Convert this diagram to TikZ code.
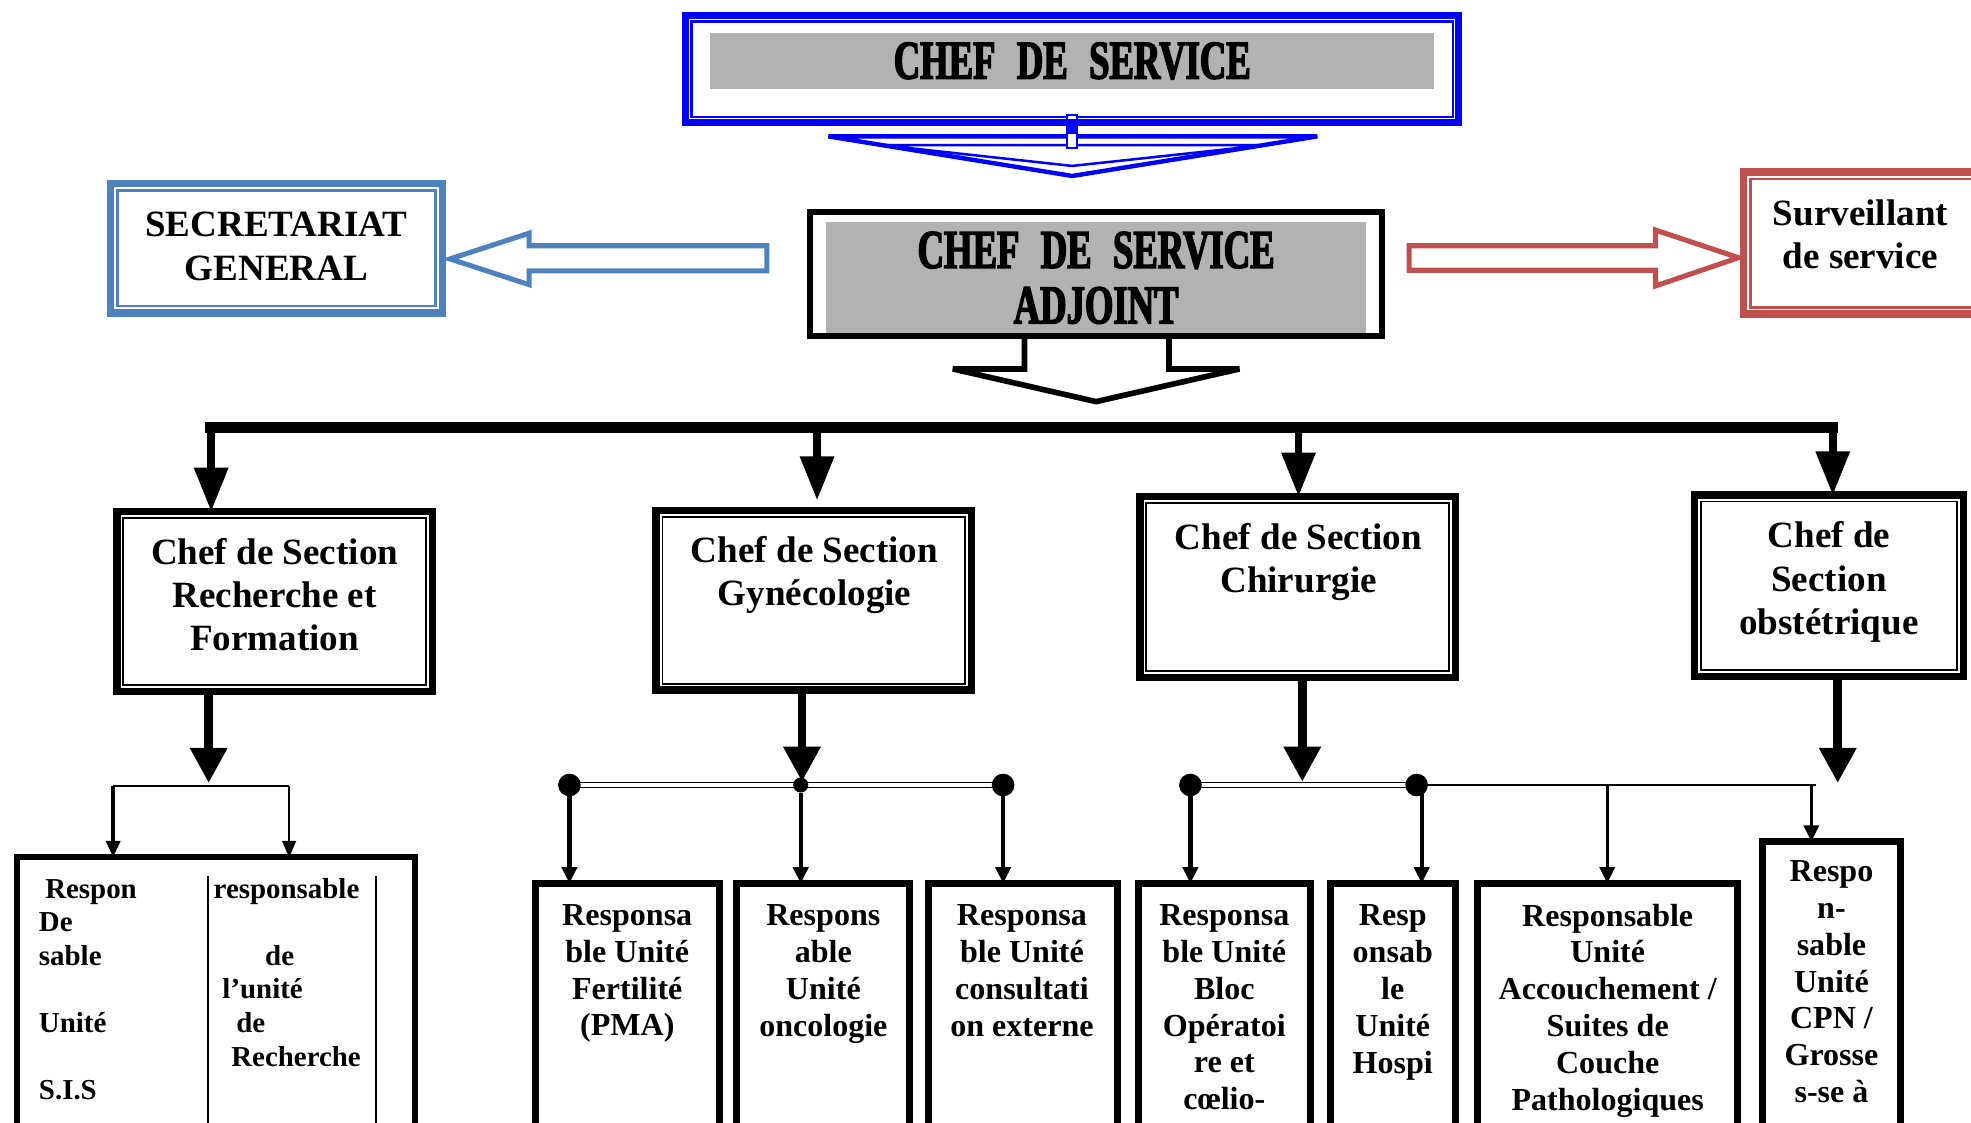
\documentclass[tikz,border=0pt]{standalone}
\usepackage{fontspec}
\setmainfont{Liberation Serif}
\newfontfamily\heavyfont{Liberation Serif}[FakeStretch=0.67,FakeBold=2.6]
\usetikzlibrary{arrows.meta}
\definecolor{secblue}{HTML}{4F81BD}
\definecolor{survred}{HTML}{C0504D}
\definecolor{topblue}{HTML}{0000FF}
\definecolor{boxgray}{HTML}{B2B2B2}
\newcommand\innerframe[4][black]{%
  \draw[#1,line width=#4] ([shift={(#3,-#3)}]#2.north west) rectangle ([shift={(-#3,#3)}]#2.south east);}
\newcommand\wsp{\hskip 17pt\relax}
\tikzset{
  every node/.style={inner sep=0pt, outer sep=0pt},
  boxline/.style={draw, rectangle},
  secframe/.style={boxline, line width=6pt},
  uframe/.style={boxline, line width=5.5pt},
  titletxt/.style={font=\heavyfont\fontsize{43.5}{44}\selectfont\bfseries, align=center},
  sectxt/.style={font=\fontsize{29.5}{34.5}\selectfont\bfseries, align=center},
  utxt/.style={font=\fontsize{25.5}{29.3}\selectfont\bfseries, align=center},
  ltxt/.style={font=\fontsize{23}{26.7}\selectfont\bfseries, align=left, anchor=north west},
  hollow/.style={line width=4pt, line join=miter, fill=white},
  busline/.style={line width=9pt},
  busarrow/.style={line width=6pt, -{Triangle[length=35pt,width=26pt]}},
  secarrow/.style={line width=7pt, -{Triangle[length=28pt,width=28pt]}},
  uarrow/.style={line width=3.5pt, -{Triangle[length=13pt,width=12pt]}},
  thinarrow/.style={line width=2pt, -{Triangle[length=13pt,width=11pt]}},
  dline/.style={double, line width=1.5pt, double distance=2.5pt},
  jdot/.style={circle, fill, minimum size=18pt},
  jsmalldot/.style={circle, fill, minimum size=12pt},
}
\begin{document}
\begin{tikzpicture}[x=1pt,y=-1pt]
\useasboundingbox (0,0) rectangle (1568,893);
\clip (0,0) rectangle (1568,893);
\fill[white] (0,0) rectangle (1568,893);

% ---------- Chef de service ----------
\node[boxline, draw=topblue, line width=5.5pt, minimum width=615pt, minimum height=85pt] (chef) at (853,55) {};
\innerframe[topblue]{chef}{4.5pt}{2pt}
\node[fill=boxgray, minimum width=576pt, minimum height=45pt, titletxt] (chefT) at (853,48.5) {CHEF\wsp DE\wsp SERVICE};
\begin{scope}[shift={(chef.south)}]
  \draw[topblue, line width=3.5pt, line join=miter, miter limit=3, fill=white] (-194,11) -- (195,11) -- (0,42.5) -- cycle;
  \draw[topblue, line width=2pt, line join=miter, miter limit=3] (-151,18) -- (153,18) -- (0,34.5) -- cycle;
  \draw[topblue, line width=1.5pt, fill=white] (-4,-6) rectangle (4,20);
  \fill[topblue] (-4,-2.5) rectangle (4,9);
\end{scope}

% ---------- Secretariat ----------
\node[boxline, draw=secblue, line width=6pt, minimum width=264pt, minimum height=103pt] (sec) at (220,197.5) {};
\innerframe[secblue]{sec}{5.5pt}{2pt}
\node[sectxt] (secT) at (220,196) {SECRETARIAT\\GENERAL};
\coordinate (secTip) at (358,206);
\draw[hollow, draw=secblue] (secTip) -- ++(63,-20.5) -- ++(0,10) -- ++(189,0) -- ++(0,20) -- ++(-189,0) -- ++(0,11) -- cycle;

% ---------- Surveillant ----------
\node[boxline, draw=survred, line width=6pt, minimum width=190pt, minimum height=113pt] (surv) at (1482,193.5) {};
\innerframe[survred]{surv}{5.5pt}{2pt}
\node[sectxt] (survT) at (1480,186.5) {Surveillant\\de service};
\coordinate (survTip) at (1383,205);
\draw[hollow, draw=survred] (survTip) -- ++(-66,-22) -- ++(0,12.5) -- ++(-196,0) -- ++(0,19.5) -- ++(196,0) -- ++(0,12.5) -- cycle;

% ---------- Adjoint ----------
\node[boxline, line width=5pt, minimum width=455pt, minimum height=99pt] (adj) at (872,218) {};
\node[fill=boxgray, minimum width=430pt, minimum height=88pt, titletxt] (adjT) at (872,221) {CHEF\wsp DE\wsp SERVICE\\ADJOINT};
\draw[line width=4.5pt, line join=miter, miter limit=2] ([xshift=-57pt]adj.south) -- ++(0,26) -- ++(-57,0) -- ++(114,26) -- ++(114,-26) -- ++(-56,0) -- ++(0,-26);

% ---------- Bus ----------
\coordinate (busL) at (163,340);
\coordinate (busR) at (1462,340);
\draw[busline] (busL) -- (busR);

% ---------- Section boxes ----------
\node[secframe, minimum width=251pt, minimum height=143pt] (s1) at (218.5,478.5) {};
\innerframe{s1}{5pt}{1.5pt}
\node[sectxt] (s1T) at (218.5,473) {Chef de Section\\Recherche et\\Formation};
\node[secframe, minimum width=251pt, minimum height=143pt] (s2) at (647.5,477.5) {};
\innerframe{s2}{5pt}{1.5pt}
\node[sectxt] (s2T) at (648,457.7) {Chef de Section\\Gynécologie};
\node[secframe, minimum width=251pt, minimum height=144pt] (s3) at (1032.5,467) {};
\innerframe{s3}{5pt}{1.5pt}
\node[sectxt] (s3T) at (1033,447) {Chef de Section\\Chirurgie};
\node[secframe, minimum width=214pt, minimum height=144pt] (s4) at (1455,466) {};
\innerframe{s4}{5pt}{1.5pt}
\node[sectxt] (s4T) at (1455,463) {Chef de\\Section\\obstétrique};

\coordinate (s2top) at ([yshift=8pt]s2.north);
\draw[busarrow] (168,340) -- (168,0 |- s1.north);
\draw[busarrow] (650,340) -- (650,0 |- s2top);
\draw[busarrow] (1033,340) -- (1033,0 |- s3.north);
\draw[busarrow] (1458,340) -- (1458,0 |- s4.north);

\draw[secarrow] (166,0 |- s1.south) -- (166,623);
\draw[secarrow] (638,0 |- s2.south) -- (638,622);
\draw[secarrow] (1036,0 |- s3.south) -- (1036,622);
\draw[secarrow] (1462,0 |- s4.south) -- (1462,623);

% ---------- Recherche sub-level ----------
\node[boxline, line width=5pt, minimum width=316.5pt, minimum height=238pt] (L) at (171.75,801) {};
\draw[line width=1.3pt] (165.5,697) -- (165.5,0 |- L.south);
\draw[line width=1.3pt] (299,697) -- (299,0 |- L.south);
\node[ltxt] (LT1) at (31,699.5) {\hspace*{5pt}Respon\\De\\sable\\\mbox{}\\Unité\\\mbox{}\\S.I.S};
\node[ltxt] (LT2) at (170,698.6) {responsable\\\mbox{}\\\hspace*{41pt}de\\\hspace*{7pt}l’unité\\\hspace*{18pt}de\\\hspace*{14pt}Recherche};
\coordinate (rbL) at (90,625);
\coordinate (rbR) at (230,625);
\draw[line width=1.5pt] (rbL) -- (rbR);
\draw[thinarrow, line width=3pt] (rbL) -- (rbL |- L.north);
\draw[thinarrow, line width=1.5pt] (rbR) -- (rbR |- L.north);

% ---------- Gynecologie sub-level ----------
\coordinate (gj1) at (453,624.5);
\coordinate (gj2) at (637,624.5);
\coordinate (gj3) at (798,624.5);
\draw[dline] (gj1) -- (gj3);
\node[jdot] (gd1) at (gj1) {};
\node[jsmalldot] (gd2) at (gj2) {};
\node[jdot] (gd3) at (gj3) {};
\node[uframe, minimum width=146.5pt, minimum height=217.25pt] (g1) at (499,811.4) {};
\node[uframe, minimum width=137pt, minimum height=217.25pt] (g2) at (654.75,811.4) {};
\node[uframe, minimum width=150.5pt, minimum height=217.25pt] (g3) at (814,811.4) {};
\node[utxt] (g1T) at (499,774.5) {Responsa\\ble Unité\\Fertilité\\(PMA)};
\node[utxt] (g2T) at (655,775) {Respons\\able\\Unité\\oncologie};
\node[utxt] (g3T) at (813,772) {Responsa\\ble Unité\\consultati\\on externe};
\draw[uarrow] (gd1) -- (gd1 |- g1.north);
\draw[uarrow] (gd2) -- (gd2 |- g2.north);
\draw[uarrow] (gd3) -- (gd3 |- g3.north);

% ---------- Chirurgie / obstetrique sub-level ----------
\coordinate (cj1) at (947,624.5);
\coordinate (cj2) at (1127,624.5);
\coordinate (cjE) at (1445,624.5);
\draw[line width=1.8pt] (cj2) -- (cjE);
\draw[dline] (cj1) -- (cj2);
\node[jdot] (cd1) at (cj1) {};
\node[jdot] (cd2) at (cj2) {};
\coordinate (cv2) at ([xshift=4pt]cd2.center);
\coordinate (cv3) at (1278.6,624.5);
\coordinate (cv4) at (1441,624.5);
\node[uframe, minimum width=137.1pt, minimum height=217.25pt] (c1) at (974.3,811.4) {};
\node[uframe, minimum width=99.4pt, minimum height=217.25pt] (c2) at (1108.25,811.4) {};
\node[uframe, minimum width=206.7pt, minimum height=217.25pt] (c3) at (1278.9,811.4) {};
\node[uframe, minimum width=109.7pt, minimum height=250.45pt] (o1) at (1457.1,794.8) {};
\node[utxt] (c1T) at (974,801.3) {Responsa\\ble Unité\\Bloc\\Opératoi\\re et\\cœlio-};
\node[utxt] (c2T) at (1108,789.5) {Resp\\onsab\\le\\Unité\\Hospi};
\node[utxt] (c3T) at (1279,804) {Responsable\\Unité\\Accouchement /\\Suites de\\Couche\\Pathologiques};
\node[utxt] (o1T) at (1457,781) {Respo\\n-\\sable\\Unité\\CPN /\\Grosse\\s-se à};
\draw[uarrow] (cd1) -- (cd1 |- c1.north);
\draw[uarrow] (cv2) -- (cv2 |- c2.north);
\draw[uarrow, line width=2.5pt] (cv3) -- (cv3 |- c3.north);
\draw[uarrow, line width=2.5pt] (cv4) -- (cv4 |- o1.north);
\end{tikzpicture}
\end{document}
